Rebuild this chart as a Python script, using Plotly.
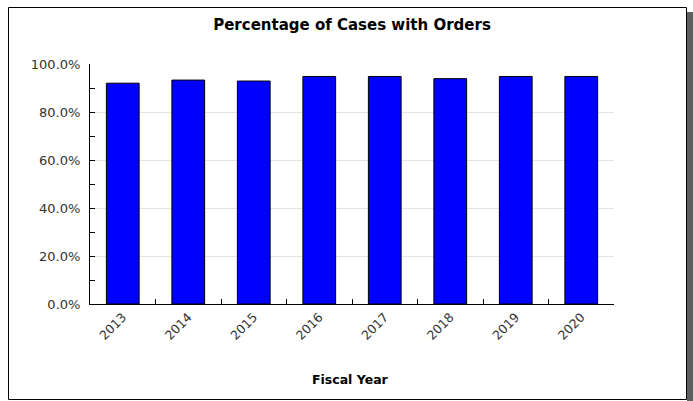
import plotly.graph_objects as go

years = ["2013", "2014", "2015", "2016", "2017", "2018", "2019", "2020"]
pct_with_orders = [92.0, 93.3, 92.9, 94.8, 94.8, 93.9, 94.8, 94.8]
y_tick_values = [0, 20, 40, 60, 80, 100]
y_tick_labels = ["0.0%", "20.0%", "40.0%", "60.0%", "80.0%", "100.0%"]

W, H = 693, 401
ml, mr, mt, mb = 90, 79, 64, 97
pw, ph = W - ml - mr, H - mt - mb

def px_x(p):
    return (p - ml) / pw

def px_y(p):
    return (H - mb - p) / ph

font = "DejaVu Sans, Arial, sans-serif"

fig = go.Figure(go.Bar(
    x=years, y=pct_with_orders,
    marker=dict(color="#0000ff", line=dict(color="#000000", width=1)),
))

fig.update_layout(
    width=W, height=H,
    margin=dict(l=ml, r=mr, t=mt, b=mb),
    paper_bgcolor="white", plot_bgcolor="white",
    bargap=0.5,
    showlegend=False,
    font=dict(family=font, size=13, color="#333333"),
    title=dict(text="<b>Percentage of Cases with Orders</b>",
               font=dict(family=font, size=15, color="#000000"),
               x=0.5, xref="paper", xanchor="center",
               y=(H - 25) / H, yref="container", yanchor="middle"),
    xaxis=dict(
        type="category", tickangle=-45,
        showline=True, linecolor="#000000", linewidth=1,
        ticks="inside", ticklen=5, tickcolor="#000000", tickson="boundaries",
        showgrid=False, tickfont=dict(size=12.5, color="#333333"),
    ),
    yaxis=dict(
        range=[0, 100], tickmode="array",
        tickvals=y_tick_values, ticktext=y_tick_labels,
        showline=True, linecolor="#000000", linewidth=1,
        ticks="inside", ticklen=5, tickcolor="#000000",
        ticklabelstandoff=6,
        minor=dict(dtick=10, ticks="inside", ticklen=5, tickcolor="#000000", showgrid=False),
        showgrid=True, gridcolor="#e3e3e3", gridwidth=1,
        zeroline=False, tickfont=dict(size=13, color="#333333"),
    ),
    annotations=[dict(
        text="<b>Fiscal Year</b>", xref="paper", yref="paper",
        x=px_x(350), y=px_y(379), xanchor="center", yanchor="middle",
        showarrow=False, font=dict(family=font, size=12.5, color="#000000"),
    )],
    shapes=[
        dict(type="rect", xref="paper", yref="paper",
             x0=px_x(687), x1=px_x(694), y0=px_y(12), y1=px_y(402),
             fillcolor="#5e5e5e", line=dict(width=0), layer="below"),
        dict(type="rect", xref="paper", yref="paper",
             x0=px_x(8.5), x1=px_x(686.5), y0=px_y(7.5), y1=px_y(399.5),
             line=dict(color="#000000", width=1), layer="below"),
    ],
)

fig.write_html("out.html",
               config={"displayModeBar": False},
               post_script="document.body.style.margin='0';document.body.style.overflow='hidden';")
